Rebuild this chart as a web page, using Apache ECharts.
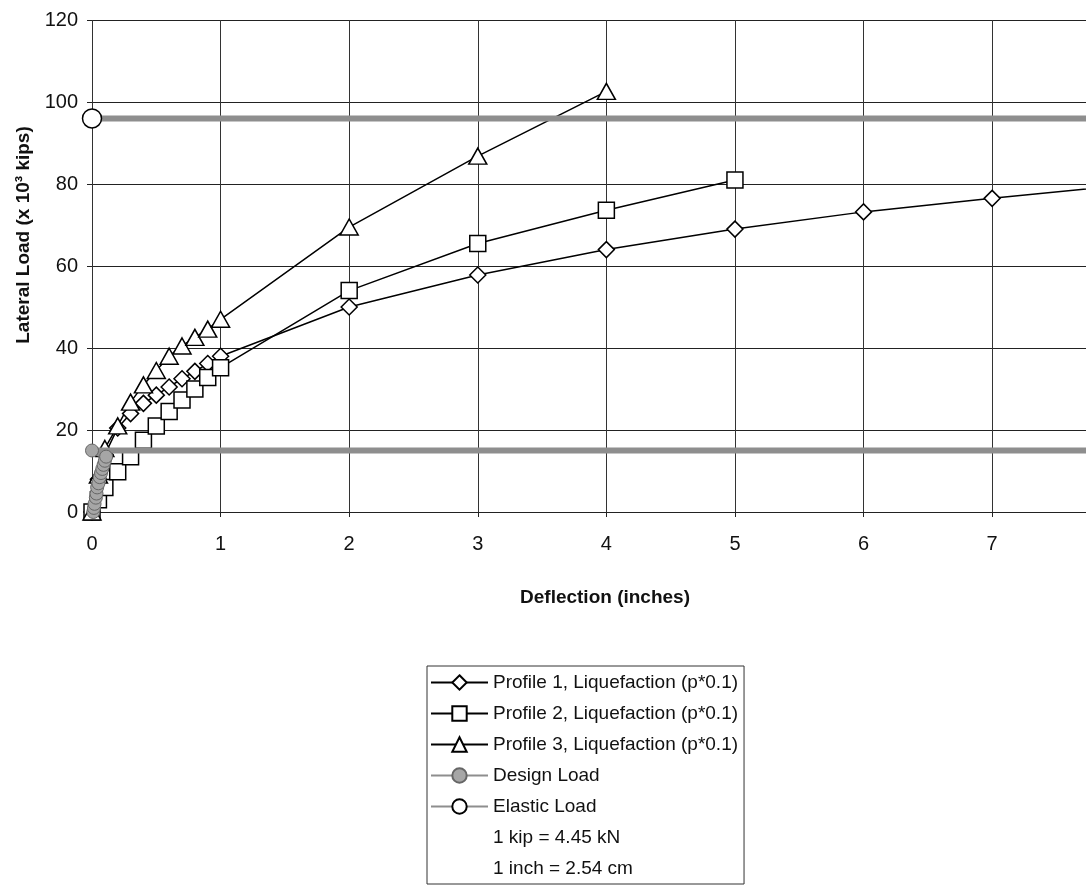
<!DOCTYPE html>
<html>
<head>
<meta charset="utf-8">
<script src="https://cdn.jsdelivr.net/npm/echarts@6/dist/echarts.min.js"></script>
<style>
html,body{margin:0;padding:0;background:#fff;}
#chart{width:1086px;height:893px;}
</style>
</head>
<body>
<div id="chart"></div>
<script>
// ---- data ----
const xTicks = [0, 1, 2, 3, 4, 5, 6, 7];
const xVisibleMax = 7.73;   // plot area is cut by the right edge of the page
const yTicks = [0, 20, 40, 60, 80, 100, 120];

const p1X = [0, 0.05, 0.1, 0.2, 0.3, 0.4, 0.5, 0.6, 0.7, 0.8, 0.9, 1, 2, 3, 4, 5, 6, 7, 8];
const p1Y = [0, 8, 14, 20.5, 24, 26.5, 28.5, 30.5, 32.5, 34.3, 36.2, 38, 50, 57.8, 64, 69, 73.2, 76.5, 79.6];

const p2X = [0, 0.05, 0.1, 0.2, 0.3, 0.4, 0.5, 0.6, 0.7, 0.8, 0.9, 1, 2, 3, 4, 5];
const p2Y = [0, 3, 6, 9.8, 13.5, 17.5, 21, 24.5, 27.3, 30, 32.8, 35.2, 54, 65.5, 73.6, 81];

const p3X = [0, 0.05, 0.1, 0.2, 0.3, 0.4, 0.5, 0.6, 0.7, 0.8, 0.9, 1, 2, 3, 4];
const p3Y = [0, 9, 15.5, 21, 26.8, 31, 34.5, 38, 40.5, 42.6, 44.6, 47, 69.5, 86.8, 102.6];

const designX = [0.01, 0.015, 0.02, 0.03, 0.035, 0.04, 0.05, 0.06, 0.07, 0.08, 0.09, 0.1, 0.11, 0, 8.5];
const designY = [0, 1, 2, 3.5, 4.5, 6, 7, 8.5, 9.5, 10.5, 11.5, 12.5, 13.5, 15, 15];

const elasticX = [0, 8.5];
const elasticY = [96, 96];

const seriesNames = [
  'Profile 1, Liquefaction (p*0.1)',
  'Profile 2, Liquefaction (p*0.1)',
  'Profile 3, Liquefaction (p*0.1)',
  'Design Load',
  'Elastic Load'
];
const noteLines = ['1 kip = 4.45 kN', '1 inch = 2.54 cm'];

const xTitle = 'Deflection (inches)';
const yTitle = 'Lateral Load (x 10³ kips)';

// ---- build ----
const zip = (xs, ys) => xs.map((x, i) => [x, ys[i]]);
const FONT = '"Liberation Sans", Arial, sans-serif';

function profileSeries(name, xs, ys, symbol, size) {
  return {
    name, type: 'line', data: zip(xs, ys),
    symbol, symbolSize: size, showAllSymbol: true,
    lineStyle: { color: '#000', width: 1.5 },
    itemStyle: { color: '#fff', borderColor: '#000', borderWidth: 1.5 },
    z: 3, animation: false
  };
}

const designData = zip(designX, designY).map((p, i, arr) =>
  i === arr.length - 1 ? { value: p, symbol: 'none' } : p);
const elasticData = zip(elasticX, elasticY).map((p, i, arr) =>
  i === arr.length - 1 ? { value: p, symbol: 'none' } : p);

const series = [
  profileSeries(seriesNames[0], p1X, p1Y, 'diamond', 16),
  profileSeries(seriesNames[1], p2X, p2Y, 'rect', 16),
  profileSeries(seriesNames[2], p3X, p3Y, 'triangle', [18, 16]),
  {
    name: seriesNames[3], type: 'line', data: designData,
    symbol: 'circle', symbolSize: 13, showAllSymbol: true,
    lineStyle: { color: '#8e8e8e', width: 6 },
    itemStyle: { color: '#a6a6a6', borderColor: '#666', borderWidth: 1 },
    z: 4, animation: false
  },
  {
    name: seriesNames[4], type: 'line', data: elasticData,
    symbol: 'circle', symbolSize: 19, showAllSymbol: true,
    lineStyle: { color: '#8e8e8e', width: 6 },
    itemStyle: { color: '#fff', borderColor: '#000', borderWidth: 1.5 },
    z: 4, animation: false
  }
];
noteLines.forEach(n => series.push({
  name: n, type: 'line', data: [], symbol: 'none',
  lineStyle: { opacity: 0, width: 0 }, itemStyle: { opacity: 0 }
}));

const legendData = seriesNames.map(n => ({ name: n }))
  .concat(noteLines.map(n => ({ name: n, icon: 'none' })));

const chart = echarts.init(document.getElementById('chart'), null, { renderer: 'canvas' });
chart.setOption({
  backgroundColor: '#fff',
  animation: false,
  textStyle: { fontFamily: FONT },
  grid: { left: 92, top: 20, right: 0, height: 492, containLabel: false },
  xAxis: {
    type: 'value', min: xTicks[0], max: xVisibleMax, interval: 1,
    axisLine: { show: true, onZero: false, lineStyle: { color: '#222', width: 1 } },
    axisTick: { show: true, length: 5, lineStyle: { color: '#222' } },
    axisLabel: { color: '#111', fontSize: 20, margin: 22, fontFamily: FONT, showMaxLabel: false },
    splitLine: { show: true, lineStyle: { color: '#333', width: 1 } }
  },
  yAxis: {
    type: 'value', min: yTicks[0], max: yTicks[yTicks.length - 1], interval: 20,
    axisLine: { show: true, lineStyle: { color: '#333', width: 1, type: 'dotted' } },
    axisTick: { show: true, length: 5, lineStyle: { color: '#222' } },
    axisLabel: { color: '#111', fontSize: 20, margin: 14, fontFamily: FONT },
    splitLine: { show: true, lineStyle: { color: '#222', width: 1 } }
  },
  legend: {
    orient: 'vertical', left: 427, top: 666,
    data: legendData,
    itemWidth: 57, itemHeight: 18, itemGap: 12,
    padding: [7, 6, 6, 3],
    borderColor: '#333', borderWidth: 1,
    selectedMode: false,
    textStyle: { fontSize: 19, lineHeight: 18, color: '#111', fontFamily: FONT }
  },
  graphic: [
    {
      type: 'text', x: 605, y: 598,
      style: { text: xTitle, font: 'bold 19px ' + FONT, fill: '#111', align: 'center', verticalAlign: 'middle' }
    },
    {
      type: 'text', x: 24, y: 235, rotation: Math.PI / 2,
      style: { text: yTitle, font: 'bold 19px ' + FONT, fill: '#111', align: 'center', verticalAlign: 'middle' }
    }
  ],
  series
});
</script>
</body>
</html>
